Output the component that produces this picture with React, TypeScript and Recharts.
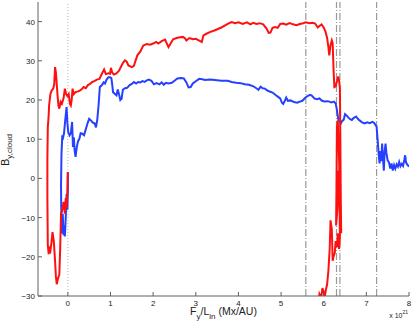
import { LineChart, Line, XAxis, YAxis, ReferenceLine } from 'recharts';

// F_y/L_in (x 10^21 Mx/AU) and B_y,cloud for the red trace
const redX = [
  0.0, -0.01, -0.03, -0.05, -0.07, -0.1, -0.12, -0.14, -0.16, -0.18, -0.2, -0.23, -0.26, -0.28, -0.3, -0.33,
  -0.36, -0.38, -0.41, -0.43, -0.45, -0.47, -0.48, -0.48, -0.47, -0.45, -0.44, -0.41, -0.38, -0.34, -0.32, -0.3,
  -0.28, -0.26, -0.24, -0.22, -0.2, -0.17, -0.14, -0.1, -0.07, -0.04, -0.01, 0.02, 0.05, 0.07, 0.09, 0.11,
  0.14, 0.18, 0.24, 0.28, 0.33, 0.37, 0.42, 0.47, 0.52, 0.57, 0.62, 0.68, 0.74, 0.79, 0.85, 0.89,
  0.95, 0.99, 1.01, 1.04, 1.08, 1.14, 1.2, 1.26, 1.3, 1.34, 1.38, 1.42, 1.5, 1.55, 1.58, 1.63,
  1.7, 1.77, 1.85, 1.93, 2.0, 2.07, 2.12, 2.2, 2.28, 2.33, 2.36, 2.42, 2.47, 2.55, 2.63, 2.7,
  2.75, 2.78, 2.85, 2.93, 3.0, 3.07, 3.14, 3.18, 3.25, 3.33, 3.45, 3.6, 3.75, 3.84, 3.92, 4.0,
  4.1, 4.2, 4.28, 4.35, 4.42, 4.5, 4.58, 4.66, 4.71, 4.75, 4.8, 4.86, 4.92, 4.98, 5.05, 5.12,
  5.2, 5.28, 5.36, 5.44, 5.52, 5.58, 5.66, 5.74, 5.8, 5.86, 5.9, 5.95, 6.0, 6.04, 6.08, 6.11,
  6.13, 6.16, 6.19, 6.21, 6.23, 6.25, 6.28, 6.31, 6.34, 6.36, 6.38, 6.39, 6.4, 6.41, 6.39, 6.36,
  6.33, 6.31, 6.3, 6.29, 6.32, 6.35, 6.37, 6.38, 6.36, 6.33, 6.31, 6.28, 6.26, 6.23, 6.21, 6.19,
  6.16, 6.14, 6.11, 6.08, 6.05, 6.02, 6.0, 5.97, 5.94, 5.9, 5.87,
];
const redY = [
  1.6, -3, -7.5, -5, -9, -6, -7.3, -8.5, -9, -18, -24.5, -25.5, -27, -25, -21, -16,
  -13.7, -16, -18.5, -18, -19.3, -17, -5, 5, 13, 16, 18.6, 21.5, 22.4, 23, 24, 28.4,
  27, 24, 21, 18.6, 17.8, 19.5, 19, 20.5, 22.9, 21.5, 21, 21.5, 19, 18.6, 20, 22.9,
  21.5, 22, 22.2, 22.4, 22.8, 23.3, 23, 23.8, 24.1, 24.6, 24.8, 25.2, 25.4, 26.5, 27.8, 26.6,
  26.8, 26.7, 28.2, 27, 26.5, 26.8, 27.5, 28.8, 29.6, 30.1, 29.8, 28.8, 28.4, 28.7, 29.8, 31.4,
  32.4, 33.9, 34.3, 34.1, 34.4, 34.8, 34.4, 35, 35.4, 34.2, 33.5, 34.6, 35.5, 35.8, 36, 36.1,
  35.7, 35.2, 35.8, 35.5, 35.6, 35.2, 34.8, 36.5, 36.9, 37.3, 37.8, 38.5, 39.4, 39.9, 39.6, 39.8,
  39.4, 39.8, 39.3, 39.7, 39.4, 39.6, 39.3, 38.2, 37.1, 37.2, 38.4, 38.6, 38.4, 39.4, 39.5, 39.2,
  39.6, 39.3, 39.1, 39.4, 39.6, 39.8, 39.6, 39.7, 39.5, 38.5, 38.9, 39.3, 38.5, 37.5, 35.8, 33.5,
  31.4, 34, 35.2, 34.5, 28, 23.3, 23.5, 24.8, 26, 25, 23, 10, -5, -14, -10, 5,
  14.8, 13, -2, -12, -8, 2, -6, -15, -18, -14, -17.5, -16, -19, -20, -21, -13,
  -10.7, -18, -23.5, -27, -28.5, -30.5, -29, -28, -30.5, -29.5, -32,
];

const blueX = [
  0.0, 0.0, -0.01, -0.03, -0.05, -0.07, -0.09, -0.1, -0.12, -0.14, -0.15, -0.16, -0.15, -0.13, -0.11, -0.09,
  -0.06, -0.03, -0.01, 0.01, 0.04, 0.07, 0.1, 0.12, 0.14, 0.16, 0.18, 0.21, 0.24, 0.27, 0.3, 0.34,
  0.38, 0.42, 0.46, 0.5, 0.54, 0.58, 0.63, 0.66, 0.69, 0.72, 0.75, 0.8, 0.84, 0.87, 0.91, 0.95,
  0.99, 1.02, 1.04, 1.06, 1.1, 1.14, 1.17, 1.2, 1.23, 1.26, 1.29, 1.34, 1.39, 1.45, 1.5, 1.55,
  1.6, 1.65, 1.7, 1.75, 1.8, 1.85, 1.9, 1.96, 2.02, 2.08, 2.15, 2.2, 2.25, 2.3, 2.36, 2.44,
  2.5, 2.57, 2.65, 2.72, 2.78, 2.83, 2.88, 2.93, 3.0, 3.08, 3.15, 3.22, 3.33, 3.45, 3.6, 3.75,
  3.84, 3.95, 4.05, 4.15, 4.25, 4.35, 4.42, 4.47, 4.52, 4.57, 4.62, 4.7, 4.8, 4.88, 4.93, 4.98,
  5.02, 5.05, 5.08, 5.12, 5.16, 5.22, 5.3, 5.38, 5.44, 5.5, 5.56, 5.62, 5.68, 5.72, 5.78, 5.84,
  5.9, 5.96, 6.02, 6.1, 6.18, 6.24, 6.28, 6.31, 6.34, 6.37, 6.4, 6.43, 6.47, 6.5, 6.54, 6.58,
  6.62, 6.66, 6.7, 6.76, 6.8, 6.84, 6.9, 6.96, 7.02, 7.08, 7.14, 7.18, 7.24, 7.27, 7.29, 7.31,
  7.33, 7.35, 7.37, 7.39, 7.41, 7.43, 7.45, 7.47, 7.5, 7.53, 7.56, 7.59, 7.62, 7.65, 7.68, 7.71,
  7.74, 7.77, 7.8, 7.83, 7.86, 7.89, 7.91, 7.93, 7.96, 8.0,
];
const blueY = [
  1.6, -3, -8, -4, -10, -14.8, -12, -14.5, -9, -14, -13, -2, 6, 11, 10.5, 11.5,
  15, 18.2, 14, 11.8, 11, 11.5, 14.4, 8, 10.5, 7, 5.5, 8, 9.5, 10.1, 11.5, 11.4,
  11, 12.5, 14, 15.2, 14.8, 14.3, 14, 13, 15, 18.6, 23.3, 23.8, 24.5, 24.2, 25.2, 25.8,
  25.8, 25.6, 24, 22, 21.6, 21.2, 22.7, 21.5, 20, 20.3, 22.6, 23, 23.1, 23.8, 24.1, 24.6,
  24.2, 24.6, 24.5, 24.8, 24.6, 25, 25.2, 24.9, 24, 24.3, 24, 24.5, 23.9, 24.4, 24.2, 24.4,
  24.9, 25.5, 25.6, 25.5, 24.5, 23.2, 23.3, 24.2, 24.8, 25.4, 25.3, 25.1, 25.2, 25.1, 24.9, 24.9,
  24.6, 24.4, 24.3, 24, 23.9, 23.5, 23, 22.6, 23.4, 23, 22.9, 22.3, 21.9, 21.2, 20.8, 20.4,
  19.3, 19, 19.6, 20.6, 19.8, 19.9, 19.5, 19.3, 19.6, 19.8, 20.5, 21, 21.3, 21.1, 20.4, 20.2,
  20.4, 19.8, 19.6, 19.7, 19.4, 19.6, 19.1, 17.5, 15.2, 14.6, 14, 14.6, 15, 16.4, 16, 15.5,
  15.1, 14.9, 15.4, 15.8, 15.2, 14.8, 14.3, 14, 14.3, 14.1, 14.4, 14.2, 13.2, 9, 6, 3.8,
  7, 4.4, 8.9, 5, 2, 7, 8.9, 6.5, 4.6, 4.1, 2.5, 3.8, 2, 3.4, 2.5, 3.6,
  3, 4.2, 3.1, 3.7, 3.2, 4.7, 5.9, 4.1, 3.5, 3,
];

const xTicks = [0, 1, 2, 3, 4, 5, 6, 7, 8];
const yTicks = [-30, -20, -10, 0, 10, 20, 30, 40];
const eventLines = [5.58, 6.3, 6.38, 7.24];

const redData = redX.map((x, i) => ({ x, y: redY[i] }));
const blueData = blueX.map((x, i) => ({ x, y: blueY[i] }));

const FONT = '"Liberation Sans", Arial, Helvetica, sans-serif';
const AXIS = '#606060';
const TXT = '#222';

const fmt = (v: number) => (v < 0 ? '\u2212' + Math.abs(v) : String(v));

const BottomTick = ({ x, y, payload }: any) => (
  <g>
    <line x1={x} x2={x} y1={y} y2={y - 4} stroke={AXIS} />
    <text x={x} y={y + 10} textAnchor="middle" fontSize={8} fill={TXT} fontFamily={FONT}>
      {fmt(payload.value)}
    </text>
  </g>
);
const TopTick = ({ x, y }: any) => <line x1={x} x2={x} y1={y} y2={y + 4} stroke={AXIS} />;
const LeftTick = ({ x, y, payload }: any) => (
  <g>
    <line x1={x} x2={x + 4} y1={y} y2={y} stroke={AXIS} />
    <text x={x - 3} y={y + 3} textAnchor="end" fontSize={8} fill={TXT} fontFamily={FONT}>
      {fmt(payload.value)}
    </text>
  </g>
);
const RightTick = ({ x, y }: any) => <line x1={x} x2={x - 4} y1={y} y2={y} stroke={AXIS} />;

const XTitle = ({ viewBox }: any) => {
  const { x, y, width } = viewBox;
  return (
    <g fontFamily={FONT} fill={TXT}>
      <text x={x + width / 2} y={y + 19} textAnchor="middle" fontSize={10.5}>
        F<tspan fontSize={8} dy={4}>y</tspan>
        <tspan dy={-4}>/L</tspan>
        <tspan fontSize={8} dy={4}>in</tspan>
        <tspan dy={-4}> (Mx/AU)</tspan>
      </text>
      <text x={x + width - 1} y={y + 22} textAnchor="end" fontSize={7}>
        x 10<tspan fontSize={5} dy={-4}>21</tspan>
      </text>
    </g>
  );
};

const YTitle = ({ viewBox }: any) => {
  const { y, height } = viewBox;
  const cx = 9;
  const cy = y + height / 2 + 1;
  return (
    <text
      x={cx}
      y={cy}
      transform={`rotate(-90, ${cx}, ${cy})`}
      textAnchor="middle"
      fontSize={11}
      fill={TXT}
      fontFamily={FONT}
    >
      B<tspan fontSize={8} dy={3}>y,cloud</tspan>
    </text>
  );
};

export default function App() {
  return (
    <div style={{ position: 'absolute', left: 0, top: 0, width: 415, height: 324, background: '#fff' }}>
      <LineChart width={415} height={324} margin={{ top: 2, right: 6, bottom: 0, left: 0 }}>
        <XAxis
          dataKey="x"
          type="number"
          domain={[-0.7, 8]}
          ticks={xTicks}
          interval={0}
          allowDataOverflow
          height={28}
          tickSize={0}
          tickMargin={0}
          tickLine={false}
          axisLine={{ stroke: AXIS }}
          tick={BottomTick}
          label={<XTitle />}
        />
        <XAxis
          xAxisId="top"
          orientation="top"
          type="number"
          domain={[-0.7, 8]}
          ticks={xTicks}
          interval={0}
          height={0}
          tickSize={0}
          tickMargin={0}
          tickLine={false}
          axisLine={{ stroke: AXIS }}
          tick={TopTick}
        />
        <YAxis
          type="number"
          domain={[-30, 45]}
          ticks={yTicks}
          interval={0}
          allowDataOverflow
          width={38}
          tickSize={0}
          tickMargin={0}
          tickLine={false}
          axisLine={{ stroke: AXIS }}
          tick={LeftTick}
          label={<YTitle />}
        />
        <YAxis
          yAxisId="right"
          orientation="right"
          type="number"
          domain={[-30, 45]}
          ticks={yTicks}
          interval={0}
          width={0}
          tickSize={0}
          tickMargin={0}
          tickLine={false}
          axisLine={{ stroke: AXIS }}
          tick={RightTick}
        />
        <ReferenceLine x={0} stroke="#b8b8b8" strokeDasharray="1 2" />
        {eventLines.map((v) => (
          <ReferenceLine key={v} x={v} stroke="#9a9a9a" strokeWidth={1.2} strokeDasharray="7 2 1 2" />
        ))}
        <Line
          data={blueData}
          dataKey="y"
          type="linear"
          stroke="#2640ff"
          strokeWidth={2}
          dot={false}
          isAnimationActive={false}
        />
        <Line
          data={redData}
          dataKey="y"
          type="linear"
          stroke="#ff1010"
          strokeWidth={2}
          dot={false}
          isAnimationActive={false}
        />
      </LineChart>
    </div>
  );
}
